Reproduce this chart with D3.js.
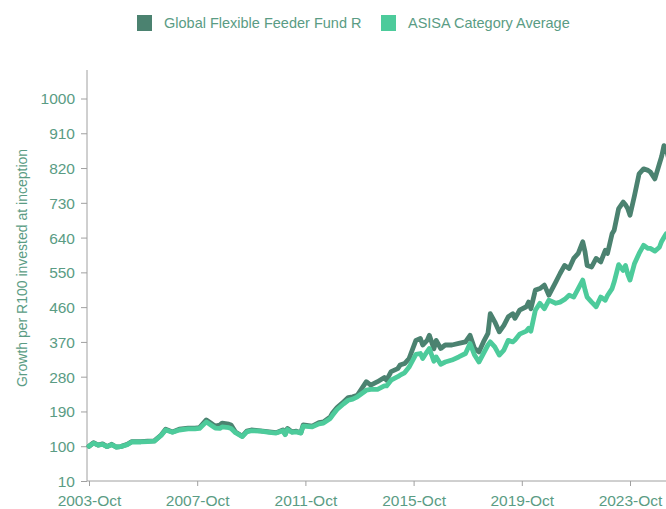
<!DOCTYPE html>
<html>
<head>
<meta charset="utf-8">
<script src="https://cdn.jsdelivr.net/npm/d3@7"></script>
<style>
  html, body { margin: 0; padding: 0; background: #fff; overflow: hidden; }
  svg { display: block; font-family: "Liberation Sans", Arial, sans-serif; }
</style>
</head>
<body>
<div id="chart"></div>
<script>
// ---- data ----
const seriesNames = ["Global Flexible Feeder Fund R", "ASISA Category Average"];
const months = [
  "2003-10","2003-12","2004-02","2004-04","2004-06","2004-08","2004-10","2004-12","2005-03","2005-05",
  "2005-09","2005-12","2006-03","2006-06","2006-08","2006-11","2007-02","2007-06","2007-09","2007-11",
  "2008-02","2008-04","2008-06","2008-08","2008-09","2008-12","2009-01","2009-03","2009-06","2009-08",
  "2009-10","2010-02","2010-06","2010-09","2010-12","2011-01","2011-02","2011-04","2011-06","2011-08",
  "2011-09","2012-01","2012-04","2012-06","2012-09","2012-10","2012-12","2013-03","2013-05","2013-07",
  "2013-09","2014-01","2014-03","2014-06","2014-09","2014-10","2014-12","2015-03","2015-04","2015-06",
  "2015-08","2015-11","2016-01","2016-02","2016-04","2016-05","2016-07","2016-08","2016-10","2016-12",
  "2017-03","2017-06","2017-09","2017-11","2018-01","2018-03","2018-05","2018-07","2018-08","2018-10",
  "2018-12","2019-02","2019-04","2019-06","2019-07","2019-09","2019-12","2020-01","2020-02","2020-04",
  "2020-06","2020-08","2020-10","2021-01","2021-03","2021-05","2021-07","2021-09","2021-11","2022-01",
  "2022-02","2022-03","2022-05","2022-07","2022-09","2022-11","2022-12","2023-02","2023-03","2023-05",
  "2023-07","2023-08","2023-09","2023-10","2023-12","2024-02","2024-04","2024-06","2024-07","2024-09",
  "2024-11","2024-12","2025-01","2025-02","2025-03"
];
const fundValues = [
  100,109,103,106,99,105,98,99,105,112,
  112,113,114,129,144,137,144,147,147,148,
  168,160,152,155,160,157,155,137,126,139,
  142,140,137,135,142,131,146,137,139,135,
  155,152,161,163,176,186,200,215,226,228,
  232,267,258,267,278,271,293,301,310,314,
  327,374,379,362,374,387,352,374,353,362,
  362,366,370,387,353,344,370,392,443,422,
  396,413,435,443,431,452,461,473,456,504,
  508,517,491,525,547,568,560,586,599,629,
  603,568,564,586,577,607,599,650,659,715,
  732,725,715,698,749,805,818,814,810,792,
  831,850,878,870,848
];
const asisaValues = [
  100,108,103,105,99,104,98,99,104,111,
  111,112,113,128,142,136,142,145,145,146,
  163,155,147,146,150,148,146,135,125,137,
  140,139,136,134,140,130,143,136,137,134,
  152,150,158,160,172,180,195,210,219,222,
  228,245,247,247,256,256,271,280,284,290,
  305,338,340,327,345,353,320,331,312,318,
  323,331,340,366,336,318,340,362,370,357,
  336,349,374,370,375,390,398,405,398,452,
  470,456,478,470,473,480,491,486,508,530,
  505,486,473,461,486,478,490,508,525,570,
  555,568,545,530,573,599,620,612,612,605,
  615,630,640,650,638
];
const yTicks = [10,100,190,280,370,460,550,640,730,820,910,1000];
const xTickLabels = ["2003-Oct","2007-Oct","2011-Oct","2015-Oct","2019-Oct","2023-Oct"];
const yTitle = "Growth per R100 invested at inception";
const colors = ["#4b8270", "#4dcb9b"];

// ---- layout ----
const W = 666, H = 509;
const textColor = "#5a9c84";
const axisColor = "#a0a0a0";

const parseM = d3.timeParse("%Y-%m");
const parseL = d3.timeParse("%Y-%b");
const dates = months.map(parseM);

const svg = d3.select("#chart").append("svg").attr("width", W).attr("height", H);

const x = d3.scaleTime()
  .domain([parseM("2003-10"), parseM("2023-10")])
  .range([89, 630]);
const y = d3.scaleLinear().domain([10, 1000]).range([481, 98.5]);

// y axis
const yAxis = d3.axisLeft(y).tickValues(yTicks).tickSize(6).tickPadding(6).tickFormat(d3.format("d"));
const gy = svg.append("g").attr("transform", "translate(87,0)").call(yAxis);
gy.select(".domain").remove();
gy.selectAll(".tick line").attr("stroke", axisColor);
gy.selectAll(".tick text").attr("fill", textColor).style("font-size", "15.5px").attr("dy", "0.35em");
svg.append("line").attr("x1", 87).attr("x2", 87).attr("y1", 70).attr("y2", 481)
  .attr("stroke", axisColor).attr("stroke-width", 1);

// x axis
const xAxis = d3.axisBottom(x).tickValues(xTickLabels.map(parseL))
  .tickSize(5).tickPadding(9).tickFormat(d3.timeFormat("%Y-%b"));
const gx = svg.append("g").attr("transform", "translate(0,481)").call(xAxis);
gx.select(".domain").remove();
gx.selectAll(".tick line").attr("stroke", axisColor);
gx.selectAll(".tick text").attr("fill", textColor).style("font-size", "15.5px");
svg.append("line").attr("x1", 87).attr("x2", W).attr("y1", 481).attr("y2", 481)
  .attr("stroke", axisColor).attr("stroke-width", 1);

// y title
svg.append("text")
  .attr("transform", "translate(27," + 268 + ") rotate(-90)")
  .attr("text-anchor", "middle")
  .attr("fill", textColor)
  .style("font-size", "14px")
  .text(yTitle);

// lines
const line = d3.line().x((d, i) => x(dates[i])).y(d => y(d)).curve(d3.curveLinear);
[fundValues, asisaValues].forEach((vals, k) => {
  svg.append("path")
    .datum(vals)
    .attr("d", line)
    .attr("fill", "none")
    .attr("stroke", colors[k])
    .attr("stroke-width", 4.8)
    .attr("stroke-linejoin", "round")
    .attr("stroke-linecap", "round");
});

// legend
const legendX = [137, 381];
seriesNames.forEach((name, k) => {
  svg.append("rect").attr("x", legendX[k]).attr("y", 15).attr("width", 15).attr("height", 16)
    .attr("fill", colors[k]);
  svg.append("text").attr("x", legendX[k] + 27).attr("y", 28)
    .attr("fill", textColor).style("font-size", "14.5px").text(name);
});
</script>
</body>
</html>
